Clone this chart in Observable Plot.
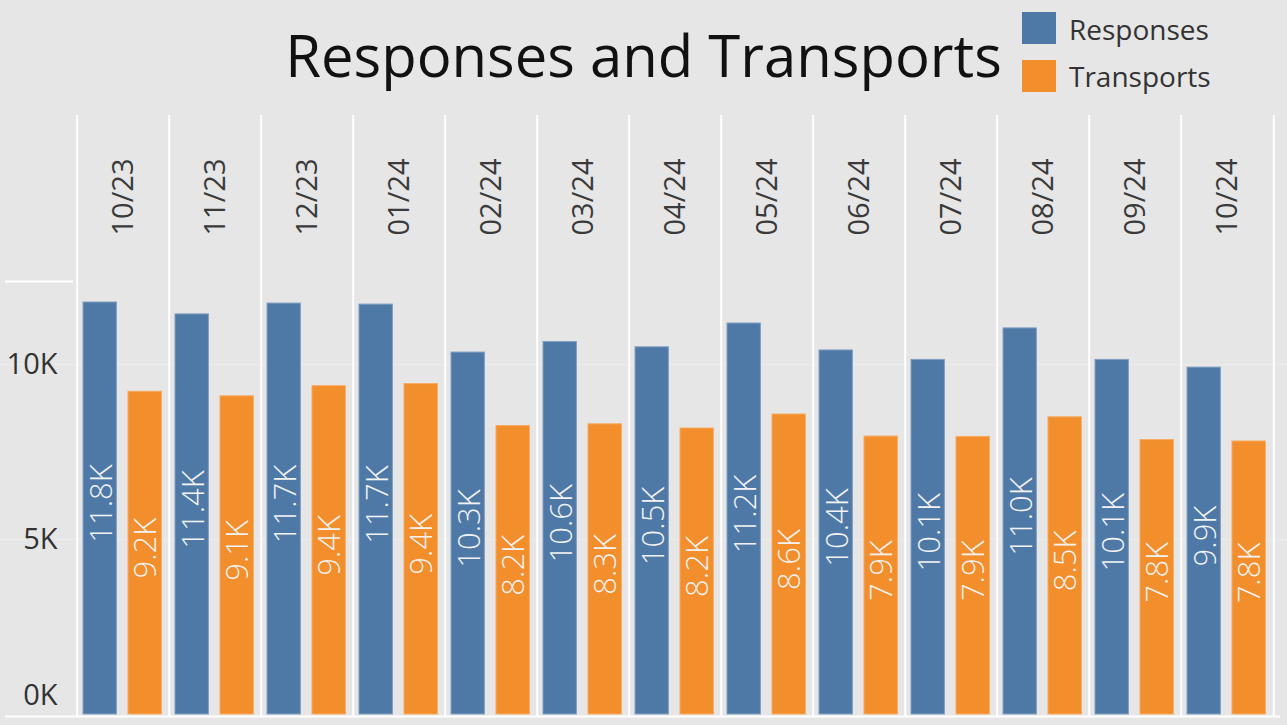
<!DOCTYPE html>
<html><head><meta charset="utf-8">
<script src="https://cdn.jsdelivr.net/npm/d3@7"></script>
<script src="https://cdn.jsdelivr.net/npm/@observablehq/plot@0.6"></script>
<style>
body{margin:0;background:#e6e6e6;font-family:"Open Sans",sans-serif;}
#wrap{width:1287px;height:725px;overflow:hidden;}
#header{position:relative;width:1287px;height:110px;}
#title{position:absolute;left:0;top:15px;width:1287px;text-align:center;font-size:58px;color:#111;line-height:normal;white-space:nowrap;}
.sw{position:absolute;left:1022px;width:34px;height:32px;}
.lt{position:absolute;left:1069px;font-size:28px;color:#333;line-height:normal;white-space:nowrap;}
#chart svg{display:block;}
</style></head>
<body><div id="wrap">
<div id="header"><div id="title">Responses and Transports</div></div>
<div id="chart"></div>
</div>
<script>
const months = ["10/23","11/23","12/23","01/24","02/24","03/24","04/24","05/24","06/24","07/24","08/24","09/24","10/24"];
const responses = [11770,11430,11740,11710,10340,10640,10490,11170,10400,10130,11030,10130,9910];
const transports = [9220,9090,9380,9440,8240,8290,8170,8570,7940,7930,8490,7840,7800];
const seriesNames = ["Responses","Transports"];
const seriesColors = ["#4e79a7","#f28e2b"];
const yTicks = [0,5000,10000];
const yMax = 12370;

const data = months.map((m,i)=>({month:m, responses:responses[i], transports:transports[i]}));
const fmt = v => (v/1000).toFixed(1) + "K";

// legend
const header = document.getElementById("header");
seriesNames.forEach((s,i)=>{
  const sw = document.createElement("div");
  sw.className="sw"; sw.style.top=(12+48*i)+"px"; sw.style.background=seriesColors[i];
  header.appendChild(sw);
  const t = document.createElement("div");
  t.className="lt"; t.style.top=(10+47*i)+"px"; t.textContent=s;
  header.appendChild(t);
});

const W=1287, H=615, mL=73, mR=10, mT=171, mB=11;
const step=(W-mL-mR)/months.length;
const txt = {fontFamily:"Open Sans"};

const plot = Plot.plot({
  width:W, height:H, marginLeft:mL, marginRight:mR, marginTop:mT, marginBottom:mB,
  style:{background:"#e6e6e6", fontFamily:"Open Sans", overflow:"visible"},
  x:{type:"band", domain:months, padding:0, axis:null},
  y:{domain:[0,yMax], axis:null},
  marks:[
    Plot.ruleY(yTicks.slice(1), {stroke:"#ebebeb", strokeWidth:1.5, insetLeft:-mL, insetRight:-mR}),
    Plot.barY(data, {x:"month", y:"responses", fill:seriesColors[0], stroke:"#7f9fc2", strokeWidth:1, insetLeft:6, insetRight:step-40}),
    Plot.barY(data, {x:"month", y:"transports", fill:seriesColors[1], stroke:"#f6ab62", strokeWidth:1, insetLeft:51, insetRight:step-85}),
    Plot.ruleX(months, {x:d=>d, dx:-step/2, stroke:"#fff", strokeWidth:2, insetTop:-166, insetBottom:-3}),
    Plot.ruleX([months[months.length-1]], {x:d=>d, dx:step/2, stroke:"#fff", strokeWidth:2, insetTop:-166, insetBottom:-3}),
    Plot.ruleY([yMax], {stroke:"#fff", strokeWidth:2, insetLeft:-(mL-5), insetRight:W-mL-mR}),
    Plot.ruleY([0], {stroke:"#fff", strokeWidth:2, dy:2, insetLeft:-(mL-5), insetRight:-3}),
    Plot.axisY(yTicks.slice(1), {tickSize:0, tickPadding:16, tickFormat:d=>d/1000+"K", fontSize:29, fill:"#333", label:null, ...txt}),
    Plot.axisY([yTicks[0]], {tickSize:0, tickPadding:16, tickFormat:d=>d/1000+"K", fontSize:29, fill:"#333", label:null, dy:-19, ...txt}),
    Plot.text(months, {x:d=>d, frameAnchor:"top", lineAnchor:"middle", dy:-46, rotate:-90, textAnchor:"start", fontSize:29, fill:"#3a3a3a", ...txt}),
    Plot.text(data, {x:"month", y:d=>d.responses/2, text:d=>fmt(d.responses), rotate:-90, lineAnchor:"middle", dx:-21.5, dy:-5, fill:"#f2f2f2", fontSize:31, fontWeight:300, ...txt}),
    Plot.text(data, {x:"month", y:d=>d.transports/2, text:d=>fmt(d.transports), rotate:-90, lineAnchor:"middle", dx:23, dy:-5, fill:"#f2f2f2", fontSize:31, fontWeight:300, ...txt})
  ]
});
document.getElementById("chart").appendChild(plot);
</script>
</body></html>
